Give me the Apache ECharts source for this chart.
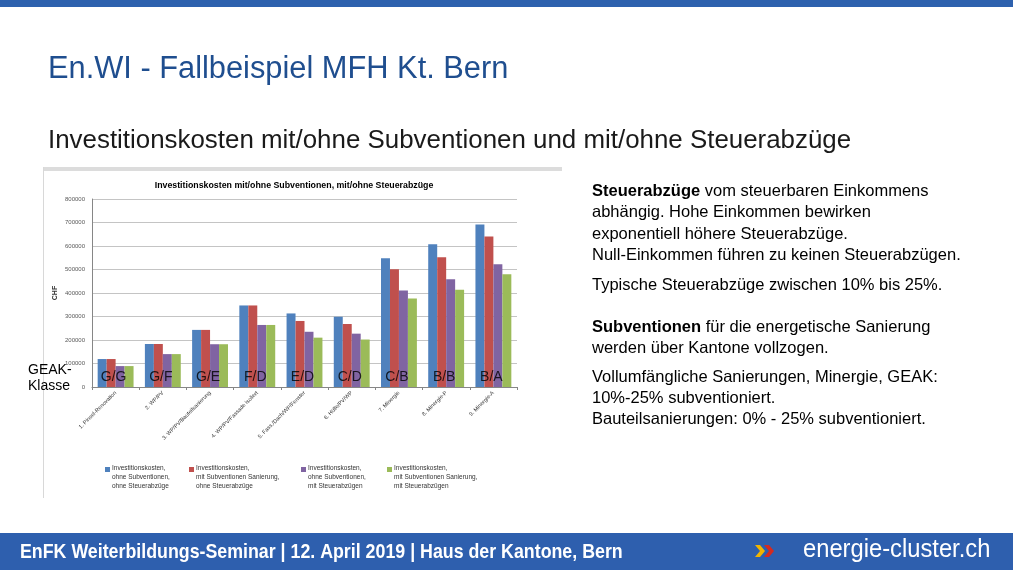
<!DOCTYPE html>
<html>
<head>
<meta charset="utf-8">
<script src="https://cdn.jsdelivr.net/npm/echarts@6/dist/echarts.min.js"></script>
<style>
  html, body { margin: 0; padding: 0; background: #fff; }
  #main { width: 1013px; height: 570px; }
</style>
</head>
<body>
<div id="main"></div>
<script>
// Varianten (x-Achse)
var varianten = ['1. Pinsel-Renovation', '2. WP/PV', '3. WP/PV/Bauteilsanierung', '4. WP/PV/Fassade isoliert',
  '5. Fass./Dach/WP/Fenster', '6. Hülle/PV/WP', '7. Minergie', '8. Minergie-P', '9. Minergie-A']
// GEAK-Klassen pro Variante
var geakKlassen = ['G/G', 'G/F', 'G/E', 'F/D', 'E/D', 'C/D', 'C/B', 'B/B', 'B/A']

var serienNamen = [
  'Investitionskosten,\nohne Subventionen,\nohne Steuerabzüge',
  'Investitionskosten,\nmit Subventionen Sanierung,\nohne Steuerabzüge',
  'Investitionskosten,\nohne Subventionen,\nmit Steuerabzügen',
  'Investitionskosten,\nmit Subventionen Sanierung,\nmit Steuerabzügen'
]
// Werte in CHF
var ohneSubOhneSteuer = [119000, 183000, 243000, 347000, 313000, 299000, 548000, 607000, 692000]
var mitSubOhneSteuer = [119000, 183000, 243000, 347000, 281000, 268000, 501000, 552000, 640000]
var ohneSubMitSteuer = [89000, 140000, 182000, 264000, 235000, 227000, 411000, 458000, 522000]
var mitSubMitSteuer = [89000, 140000, 182000, 264000, 210000, 202000, 377000, 414000, 480000]

var farben = ['#4F81BD', '#C0504D', '#8064A2', '#9BBB59']
var werte = [ohneSubOhneSteuer, mitSubOhneSteuer, ohneSubMitSteuer, mitSubMitSteuer]

var FONT = 'Liberation Sans, Arial, sans-serif'

var chart = echarts.init(document.getElementById('main'), null, { renderer: 'canvas' })

var series = werte.map(function (w, i) {
  return {
    name: serienNamen[i],
    type: 'bar',
    data: w,
    barGap: '0%',
    barCategoryGap: '24%',
    itemStyle: { color: farben[i] }
  }
})
// GEAK-Beschriftung ueber den Balken
series.push({
  name: 'GEAK',
  type: 'scatter',
  symbolSize: 0,
  silent: true,
  z: 10,
  data: geakKlassen.map(function () { return 43000 }),
  label: {
    show: true,
    position: 'inside',
    offset: [-2, 0],
    formatter: function (p) { return geakKlassen[p.dataIndex] },
    fontFamily: FONT,
    fontSize: 14,
    color: '#000'
  }
})

var legendX = [100, 184, 296, 382]
var legends = serienNamen.map(function (n, i) {
  return {
    data: [n],
    left: legendX[i],
    top: 459,
    icon: 'path://M0,0 L10,0 L10,10 L0,10 Z M0,10 L0,40 L0.01,40 Z',
    itemWidth: 5,
    itemHeight: 20,
    itemGap: 0,
    selectedMode: false,
    textStyle: { fontSize: 6.5, lineHeight: 8.7, color: '#333', fontFamily: FONT, padding: [0, 0, 0, -3] }
  }
})

function txt (x, y, text, style) {
  return {
    type: 'text',
    x: x,
    y: y,
    style: Object.assign({ text: text, fill: '#000', fontFamily: FONT }, style)
  }
}

var rightRich = { b: { fontWeight: 'bold', fontSize: 16.5, fontFamily: FONT, fill: '#000' } }

var option = {
  animation: false,
  backgroundColor: '#fff',
  title: {
    text: 'Investitionskosten mit/ohne Subventionen, mit/ohne Steuerabzüge',
    left: 289,
    top: 176,
    textAlign: 'center',
    textStyle: { fontSize: 8.8, fontWeight: 'bold', color: '#000', fontFamily: FONT }
  },
  legend: legends,
  grid: { left: 92, right: 496, top: 199, bottom: 183 },
  xAxis: {
    type: 'category',
    data: varianten,
    axisLine: { lineStyle: { color: '#868686' } },
    axisTick: { show: true, length: 3, lineStyle: { color: '#868686' } },
    axisLabel: { rotate: 45, fontSize: 5.5, color: '#333', margin: 5, fontFamily: FONT }
  },
  yAxis: {
    type: 'value',
    min: 0,
    max: 800000,
    interval: 100000,
    name: 'CHF',
    nameLocation: 'middle',
    nameRotate: 90,
    nameGap: 33,
    nameTextStyle: { fontSize: 7, fontWeight: 'bold', color: '#333' },
    axisLine: { show: true, lineStyle: { color: '#868686' } },
    axisTick: { show: false },
    axisLabel: { fontSize: 6, color: '#595959', margin: 7, fontFamily: FONT, formatter: function (v) { return String(v) } },
    splitLine: { lineStyle: { color: '#c4c4c4' } }
  },
  series: series,
  graphic: [
    // Kopfbalken
    { type: 'rect', shape: { x: 0, y: 0, width: 1013, height: 7 }, style: { fill: '#2E61AE' } },
    txt(48, 70, 'En.WI - Fallbeispiel MFH Kt. Bern', { fontSize: 30.8, fill: '#1F4E8F', verticalAlign: 'middle' }),
    txt(48, 141, 'Investitionskosten mit/ohne Subventionen und mit/ohne Steuerabzüge', { fontSize: 25.9, fill: '#1a1a1a', verticalAlign: 'middle' }),
    // Bildrahmen
    { type: 'rect', shape: { x: 44, y: 167, width: 518, height: 4 }, style: { fill: '#dcdcdc' } },
    { type: 'rect', shape: { x: 43, y: 167, width: 1, height: 331 }, style: { fill: '#d8d8d8' } },
    txt(28, 370, 'GEAK-', { fontSize: 14, verticalAlign: 'middle' }),
    txt(28, 386, 'Klasse', { fontSize: 14, verticalAlign: 'middle' }),
    // Rechter Text
    txt(592, 181, '{b|Steuerabzüge} vom steuerbaren Einkommens\nabhängig. Hohe Einkommen bewirken\nexponentiell höhere Steuerabzüge.\nNull-Einkommen führen zu keinen Steuerabzügen.', { fontSize: 16.5, lineHeight: 21.3, verticalAlign: 'top', rich: rightRich }),
    txt(592, 285, 'Typische Steuerabzüge zwischen 10% bis 25%.', { fontSize: 16.5, verticalAlign: 'middle' }),
    txt(592, 317, '{b|Subventionen} für die energetische Sanierung\nwerden über Kantone vollzogen.', { fontSize: 16.5, lineHeight: 21.3, verticalAlign: 'top', rich: rightRich }),
    txt(592, 366.5, 'Vollumfängliche Sanierungen, Minergie, GEAK:\n10%-25% subventioniert.\nBauteilsanierungen: 0% - 25% subventioniert.', { fontSize: 16.5, lineHeight: 21.3, verticalAlign: 'top' }),
    // Fusszeile
    { type: 'rect', shape: { x: 0, y: 533, width: 1013, height: 37 }, style: { fill: '#2E5FAE' } },
    Object.assign(txt(20, 552, 'EnFK Weiterbildungs-Seminar | 12. April 2019 | Haus der Kantone, Bern', { fontSize: 21, fontWeight: 'bold', fill: '#fff', verticalAlign: 'middle' }), { scaleX: 0.847 }),
    { type: 'polygon', shape: { points: [[755, 545], [760, 545], [765, 551], [760, 557], [755, 557], [760, 551]] }, style: { fill: '#F2B500' } },
    { type: 'polygon', shape: { points: [[764, 545], [769, 545], [774, 551], [769, 557], [764, 557], [769, 551]] }, style: { fill: '#D42A20' } },
    Object.assign(txt(803, 550, 'energie-cluster.ch', { fontSize: 26, fill: '#fff', verticalAlign: 'middle' }), { scaleX: 0.913 })
  ]
}

chart.setOption(option)
</script>
</body>
</html>
